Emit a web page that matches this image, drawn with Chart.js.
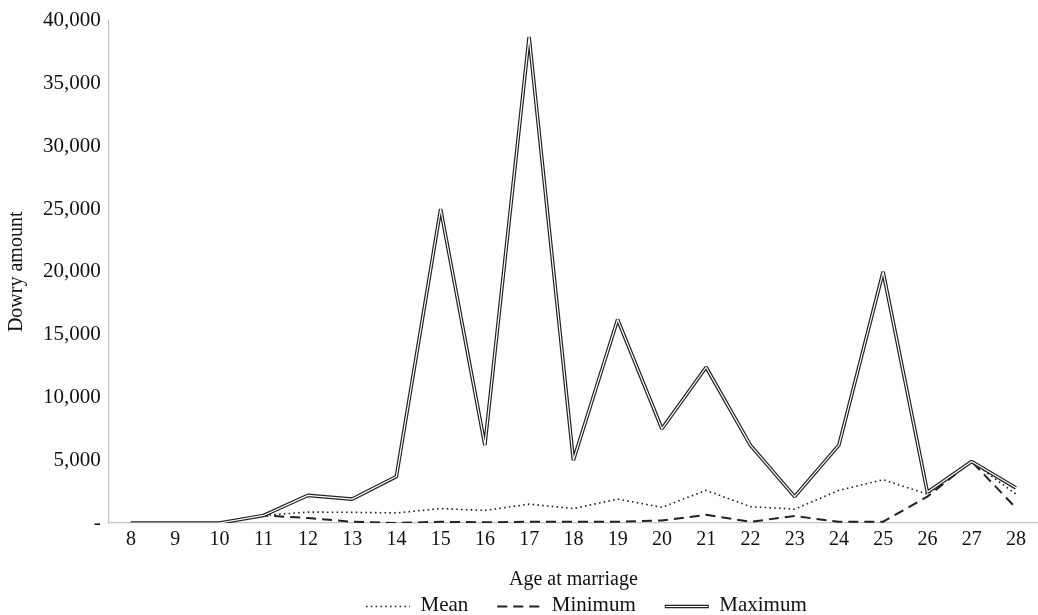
<!DOCTYPE html>
<html>
<head>
<meta charset="utf-8">
<script src="https://cdn.jsdelivr.net/npm/chart.js@4/dist/chart.umd.min.js"></script>
<style>
  html, body { margin: 0; padding: 0; background: #fff; }
  #wrap { width: 1038px; height: 615px; }
</style>
</head>
<body>
<div id="wrap"><canvas id="chart" width="1038" height="615"></canvas></div>
<script>
const ages = ["8", "9", "10", "11", "12", "13", "14", "15", "16", "17", "18", "19", "20", "21", "22", "23", "24", "25", "26", "27", "28"];
const meanValues = [0, 0, 0, 600, 870, 850, 800, 1150, 1000, 1500, 1150, 1900, 1250, 2600, 1300, 1100, 2600, 3450, 2300, 4900, 2300];
const minValues = [0, 0, 0, 600, 400, 100, 0, 100, 50, 100, 100, 100, 200, 650, 100, 550, 100, 100, 2100, 4900, 1200];
const maxValues = [0, 0, 0, 600, 2200, 1900, 3700, 25000, 6200, 38700, 5000, 16200, 7500, 12400, 6200, 2100, 6200, 20000, 2450, 4900, 2800];

const serif = "'Liberation Serif', 'DejaVu Serif', serif";
const sampleGap = 26;   // blank space before each legend sample
const sampleLen = 44;

// legend samples drawn by hand: Chart.js skips line dashes for point-style legends
const legendSamples = {
  id: "legendSamples",
  afterDraw(chart) {
    const legend = chart.legend;
    if (!legend || !legend.legendHitBoxes) return;
    const ctx = chart.ctx;
    legend.legendItems.forEach((item, i) => {
      const box = legend.legendHitBoxes[i];
      const ds = chart.data.datasets[item.datasetIndex];
      const x0 = box.left + sampleGap;
      const x1 = x0 + sampleLen;
      const cy = Math.round(box.top + box.height / 2) + 0.5;
      ctx.save();
      ctx.strokeStyle = ds.borderColor;
      ctx.lineWidth = ds.borderWidth;
      ctx.setLineDash(ds.borderDash || []);
      ctx.beginPath();
      ctx.moveTo(x0, cy);
      ctx.lineTo(x1, cy);
      ctx.stroke();
      if (item.text === "Maximum") {
        ctx.strokeStyle = "#fff";
        ctx.lineWidth = 1.2;
        ctx.beginPath();
        ctx.moveTo(x0 + 1, cy);
        ctx.lineTo(x1 - 1, cy);
        ctx.stroke();
      }
      ctx.restore();
    });
  }
};

new Chart(document.getElementById("chart"), {
  type: "line",
  data: {
    labels: ages,
    datasets: [
      {
        label: "Mean",
        data: meanValues,
        borderColor: "#222",
        borderWidth: 1.6,
        borderDash: [1.6, 3.2],
        pointRadius: 0,
        tension: 0
      },
      {
        label: "Minimum",
        data: minValues,
        borderColor: "#222",
        borderWidth: 2,
        borderDash: [10, 6],
        pointRadius: 0,
        tension: 0
      },
      {
        label: "Maximum",
        data: maxValues,
        borderColor: "#222",
        borderWidth: 3.6,
        borderJoinStyle: "bevel",
        pointRadius: 0,
        tension: 0
      },
      {
        label: "inner",
        data: maxValues,
        borderColor: "#fff",
        borderWidth: 1.2,
        borderJoinStyle: "bevel",
        pointRadius: 0,
        tension: 0,
        order: -1
      }
    ]
  },
  options: {
    responsive: false,
    animation: false,
    layout: { padding: { top: 3, right: 0, left: 3, bottom: -11 } },
    plugins: {
      tooltip: { enabled: false },
      legend: {
        position: "bottom",
        fullSize: false,
        labels: {
          generateLabels: (chart) =>
            Chart.defaults.plugins.legend.labels.generateLabels(chart)
              .map((it) => ({ ...it, strokeStyle: "rgba(0,0,0,0)", fillStyle: "rgba(0,0,0,0)", lineWidth: 0 })),
          filter: (item) => item.text !== "inner",
          usePointStyle: true,
          pointStyle: "line",
          pointStyleWidth: sampleGap + sampleLen,
          color: "#111",
          padding: 3,
          font: { family: serif, size: 21 }
        }
      }
    },
    scales: {
      x: {
        offset: true,
        grid: { display: false, drawTicks: false, tickLength: 0 },
        border: { color: "#c4c4c4", width: 1.2 },
        ticks: {
          color: "#111",
          padding: 5,
          autoSkip: false,
          maxRotation: 0,
          font: { family: serif, size: 20 }
        },
        title: {
          display: true,
          text: "Age at marriage",
          color: "#111",
          padding: { top: 11, bottom: 0 },
          font: { family: serif, size: 20 }
        }
      },
      y: {
        min: 0,
        max: 40000,
        grid: { display: false, drawTicks: false, tickLength: 0 },
        border: { color: "#c4c4c4", width: 1.2 },
        ticks: {
          stepSize: 5000,
          color: "#111",
          padding: 8,
          font: { family: serif, size: 21 },
          callback: (v) => (v === 0 ? "-" : v.toLocaleString("en-US"))
        },
        title: {
          display: true,
          text: "Dowry amount",
          color: "#111",
          padding: { top: 2, bottom: 6 },
          font: { family: serif, size: 20 }
        }
      }
    }
  },
  plugins: [legendSamples]
});
</script>
</body>
</html>
